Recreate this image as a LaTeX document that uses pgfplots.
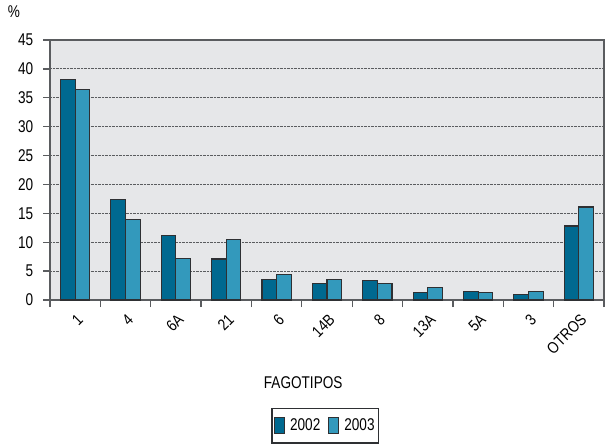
\documentclass[border=0pt]{standalone}
\usepackage{pgfplots}
\pgfplotsset{compat=1.18}
\usepackage{fontspec}
\setmainfont{Liberation Sans}
\newcommand\nx[1]{\scalebox{0.8}[1]{#1}}
\newcommand\xl[1]{\rotatebox{45}{\fontsize{16}{18}\selectfont\scalebox{0.85}[1]{#1}}}
\definecolor{c2002}{HTML}{006990}
\definecolor{c2003}{HTML}{3399BC}
\definecolor{bg}{HTML}{E6E7E9}
\definecolor{edge}{HTML}{2E3033}
\definecolor{frame}{HTML}{5A5C5F}
\begin{document}
\fontsize{17}{20}\selectfont
\begin{tikzpicture}
\path[use as bounding box] (0,0) rectangle (610pt,445pt);
\begin{axis}[
  at={(50pt,145pt)}, anchor=south west,
  scale only axis,
  width=554pt, height=260pt,
  font=\fontsize{17}{20}\selectfont,
  axis background/.style={fill=bg},
  axis line style={frame, line width=1.3pt},
  ybar, bar width=0.29,
  xmin=-0.5, xmax=10.5,
  ymin=0, ymax=45,
  ytick={0,5,...,45},
  yticklabel={\nx{\pgfmathprintnumber{\tick}}},
  xtick={0,...,10},
  xticklabels={\xl{1},\xl{4},\xl{6A},\xl{21},\xl{6},\xl{14B},\xl{8},\xl{13A},\xl{5A},\xl{3},\xl{OTROS}},
  minor xtick={-0.5,0.5,...,10.5},
  major x tick style={draw=none},
  minor tick length=7pt,
  major tick length=7pt,
  tick align=outside,
  tick style={frame, line width=1.3pt},
  xtick pos=bottom, ytick pos=left,
  xticklabel style={anchor=north east, inner sep=0pt, yshift=-6pt, xshift=9pt},
  yticklabel style={xshift=-4pt},
  /pgf/number format/assume math mode=true,
  ymajorgrids,
  grid style={densely dotted, line width=1.1pt, draw=frame},
  xlabel={\nx{FAGOTIPOS}},
  xlabel style={at={(axis description cs:0.457,-0.319)}, anchor=center},
  legend style={at={(axis description cs:0.497,-0.415)}, anchor=north,
    draw=edge, line width=1.3pt, legend columns=2, fill=white,
    inner xsep=2pt, inner ysep=8pt, column sep=3pt,
    /tikz/every even column/.append style={column sep=6pt}},
  legend image code/.code={\draw[#1, line width=1pt] (0pt,-8pt) rectangle (10pt,8pt);},
  clip=false,
]
\addplot[fill=c2002, draw=edge, line width=1.1pt, bar shift=-0.145] coordinates {
(0,38.2) (1,17.4) (2,11.1) (3,7.1) (4,3.5) (5,2.9) (6,3.3) (7,1.3) (8,1.5) (9,0.9) (10,12.8)};
\addplot[fill=c2003, draw=edge, line width=1.1pt, bar shift=0.145] coordinates {
(0,36.4) (1,14.0) (2,7.2) (3,10.5) (4,4.4) (5,3.5) (6,2.9) (7,2.1) (8,1.3) (9,1.5) (10,16.1)};
\legend{\nx{2002},\nx{2003}}
\node[anchor=center] at (axis description cs:-0.065,1.108) {\nx{\%}};
\end{axis}
\end{tikzpicture}
\end{document}
